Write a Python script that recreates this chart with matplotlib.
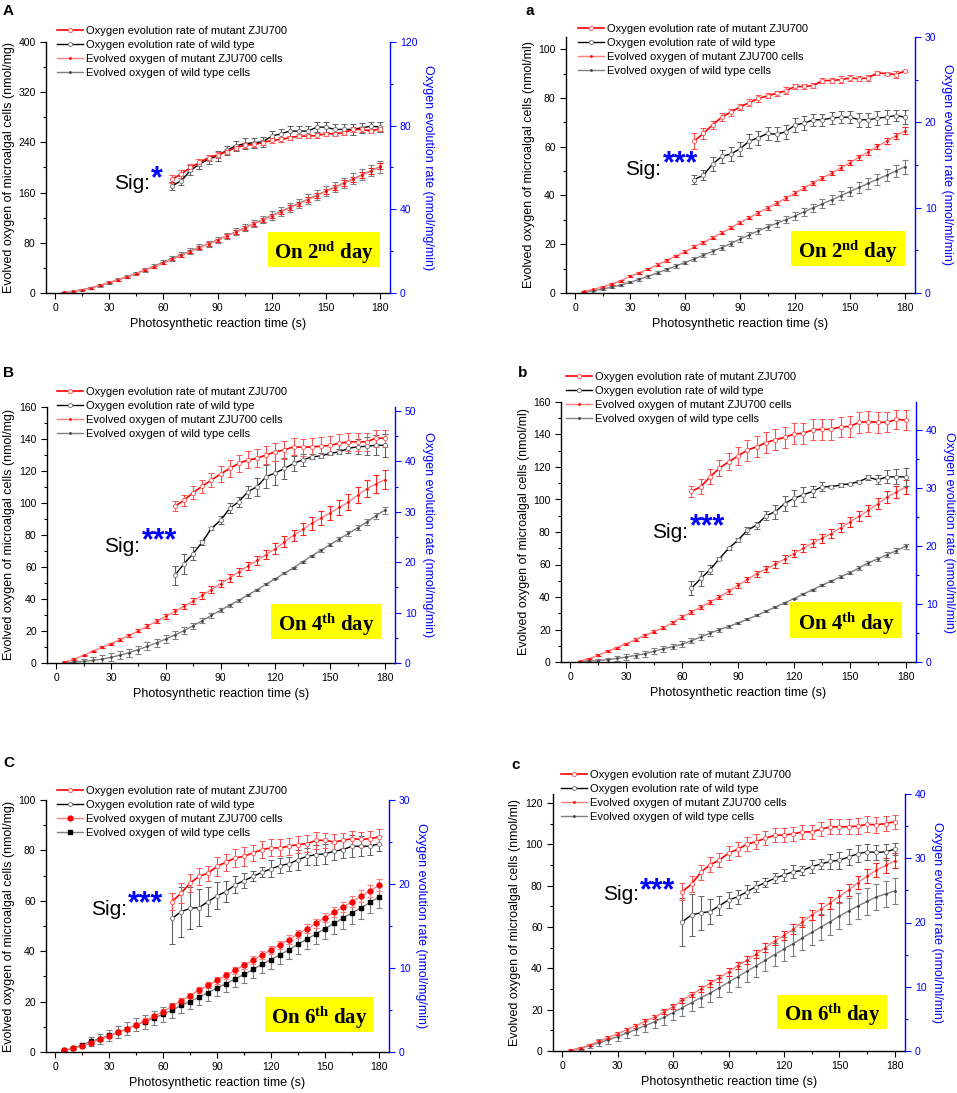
import matplotlib
matplotlib.use('Agg')
import matplotlib.pyplot as plt
from matplotlib.lines import Line2D
from matplotlib.patches import Rectangle
from matplotlib.ticker import MultipleLocator

plt.rcParams['font.family'] = ['Liberation Sans', 'DejaVu Sans']
plt.rcParams['mathtext.fontset'] = 'custom'
plt.rcParams['mathtext.rm'] = 'Liberation Serif:bold'
plt.rcParams['mathtext.bf'] = 'Liberation Serif:bold'
plt.rcParams['mathtext.it'] = 'Liberation Serif:bold'

W, H = 957, 1093

##### time points #####
t_evo = [5, 10, 15, 20, 25, 30, 35, 40, 45, 50, 55, 60, 65, 70, 75, 80, 85, 90,
         95, 100, 105, 110, 115, 120, 125, 130, 135, 140, 145, 150, 155, 160,
         165, 170, 175, 180]
t_rate = [65, 70, 75, 80, 85, 90, 95, 100, 105, 110, 115, 120, 125, 130, 135,
          140, 145, 150, 155, 160, 165, 170, 175, 180]

leg_labels = ['Oxygen evolution rate of mutant ZJU700',
              'Oxygen evolution rate of wild type',
              'Evolved oxygen of mutant ZJU700 cells',
              'Evolved oxygen of wild type cells']

##### panel A (2nd day, per mg) #####
A_evo_mut = [1, 3, 5, 8, 12, 17, 21, 26, 31, 37, 42, 48, 54, 60, 66, 72, 78, 84,
             91, 97, 103, 110, 116, 123, 129, 136, 142, 149, 155, 162, 168, 175,
             181, 188, 194, 202]
A_evo_mut_err = [0.5, 0.6, 0.8, 1, 1, 1.2, 1.3, 1.5, 1.5, 1.7, 1.8, 2, 2, 2.2, 2.3,
                 2.5, 2.5, 2.7, 2.8, 3, 3, 3.2, 3.3, 3.5, 3.5, 3.7, 3.8, 4, 4, 4.2,
                 4.3, 4.5, 4.5, 4.7, 4.8, 5]
A_evo_wt = [1, 2.5, 5, 8.5, 12, 16.5, 21, 26, 31.5, 37, 43, 49, 55, 61, 67, 73,
            78.5, 84.5, 91, 97.5, 104, 110.5, 117, 123.5, 130, 136.5, 143, 149.5,
            156, 162.5, 169, 175.5, 182, 188.5, 195, 201]
A_evo_wt_err = [0.8, 1, 1.2, 1.5, 1.7, 2, 2.2, 2.5, 2.7, 3, 3.2, 3.5, 3.7, 4, 4.2,
                4.5, 4.7, 5, 5.2, 5.5, 5.7, 6, 6.2, 6.5, 6.7, 7, 7.2, 7.5, 7.7, 8,
                8.2, 8.5, 8.7, 9, 9, 9]
A_rate_mut = [54.5, 57, 60, 62.4, 64.7, 66, 67.6, 69.5, 70.6, 71, 71.8, 73, 73.4,
              74.2, 75, 75, 75.3, 76.1, 76.1, 76.6, 78.2, 78.2, 77.4, 78.6]
A_rate_mut_err = [2, 2, 1.8, 1.5, 1.5, 1.5, 1.3, 1.3, 1.3, 1.3, 1.2, 1.2, 1, 1, 1,
                  1, 1, 1, 1, 1, 1, 1, 1, 1.2]
A_rate_wt = [51.3, 53.7, 58.7, 61.6, 64, 65.5, 68.2, 70.3, 71.4, 71.8, 72.3, 75,
             76.1, 77.4, 77.4, 77.4, 79.3, 79.3, 78.2, 78.2, 78.2, 79, 79.7, 79.4]
A_rate_wt_err = [2, 2, 2.5, 2.3, 2.2, 2.5, 2.2, 2.5, 2.5, 2.5, 2.5, 2.5, 2.5, 2.5,
                 2.5, 2.5, 2.5, 2.5, 2.5, 2.5, 2.5, 2.3, 2.2, 2.2]

##### panel a (2nd day, per ml) #####
a_evo_mut = [0.7, 1.5, 2.5, 3.7, 5.1, 6.8, 8.3, 9.9, 11.6, 13.4, 15.2, 17, 18.9,
             20.8, 22.7, 24.7, 26.8, 28.9, 30.9, 32.9, 34.9, 36.9, 38.9, 41, 43.1,
             45.2, 47.2, 49.2, 51.3, 53.5, 55.7, 57.9, 60.1, 62.3, 64.4, 66.6]
a_evo_mut_err = [0.2, 0.3, 0.3, 0.3, 0.4, 0.4, 0.4, 0.5, 0.5, 0.5, 0.5, 0.6, 0.6,
                 0.6, 0.6, 0.7, 0.7, 0.7, 0.7, 0.8, 0.8, 0.8, 0.8, 0.9, 0.9, 0.9,
                 0.9, 1, 1, 1, 1, 1.1, 1.1, 1.2, 1.2, 1.3]
a_evo_wt = [0.4, 1.0, 1.6, 2.4, 3.3, 4.4, 5.6, 6.9, 8.3, 9.7, 11.1, 12.5, 14.0,
            15.5, 17.1, 18.6, 20.3, 22.1, 23.8, 25.5, 27.1, 28.6, 30.1, 31.6, 33.3,
            35.0, 36.6, 38.2, 39.9, 41.6, 43.3, 45.0, 46.6, 48.3, 50.0, 51.8]
a_evo_wt_err = [0.2, 0.3, 0.3, 0.4, 0.4, 0.5, 0.5, 0.6, 0.6, 0.7, 0.7, 0.8, 0.8,
                0.9, 1, 1, 1.1, 1.1, 1.2, 1.3, 1.3, 1.4, 1.5, 1.5, 1.6, 1.7, 1.8,
                1.8, 1.9, 2, 2.1, 2.2, 2.3, 2.4, 2.6, 2.8]
a_rate_mut = [17.8, 18.7, 19.7, 20.6, 21.2, 21.8, 22.3, 22.8, 23.1, 23.4, 23.7,
              24.2, 24.2, 24.3, 24.9, 24.9, 25.0, 25.2, 25.1, 25.2, 25.8, 25.7,
              25.6, 26.0]
a_rate_mut_err = [0.9, 0.6, 0.5, 0.5, 0.4, 0.4, 0.4, 0.4, 0.3, 0.3, 0.4, 0.3, 0.3,
                  0.3, 0.3, 0.3, 0.4, 0.3, 0.3, 0.3, 0.2, 0.2, 0.4, 0.1]
a_rate_wt = [13.3, 13.8, 15.1, 16.0, 16.3, 16.9, 17.8, 18.2, 18.7, 18.6, 18.9,
             19.7, 19.9, 20.3, 20.3, 20.5, 20.6, 20.6, 20.3, 20.3, 20.5, 20.6,
             20.8, 20.6]
a_rate_wt_err = [0.5, 0.6, 0.8, 0.8, 0.8, 0.8, 0.8, 0.8, 0.8, 0.8, 0.8, 0.8, 0.8,
                 0.7, 0.7, 0.7, 0.7, 0.7, 0.8, 0.8, 0.8, 0.8, 0.7, 0.8]

##### panel B (4th day, per mg) #####
B_evo_mut = [0.8, 2.5, 4.8, 7.3, 9.8, 12.1, 14.6, 17.3, 20.1, 23.0, 26.1, 29.2,
             32.3, 35.4, 38.8, 42.2, 45.8, 49.5, 53.2, 56.9, 60.6, 64.2, 67.8,
             71.5, 75.7, 79.8, 83.6, 87.3, 90.6, 93.8, 97.2, 100.6, 104.8, 108.9,
             111.8, 114.6]
B_evo_mut_err = [0.3, 0.4, 0.5, 0.5, 0.6, 0.7, 0.8, 0.9, 1, 1.1, 1.2, 1.4, 1.5,
                 1.6, 1.8, 1.9, 2.1, 2.2, 2.4, 2.5, 2.7, 2.9, 3, 3.2, 3.4, 3.6, 3.8,
                 4, 4.2, 4.4, 4.6, 4.8, 5, 5.3, 5.6, 5.9]
B_evo_wt = [0.2, 0.5, 1.0, 1.6, 2.4, 3.5, 4.9, 6.5, 8.4, 10.4, 12.6, 15.0, 17.5,
            20.2, 23.3, 26.5, 29.7, 33.0, 36.1, 39.2, 42.5, 45.8, 49.3, 52.7, 56.1,
            59.6, 63.3, 67.0, 70.5, 74.0, 77.5, 81.0, 84.5, 88.0, 92.0, 95.6]
B_evo_wt_err = [0.3, 0.5, 1.5, 2, 2.3, 2.5, 2.5, 2.5, 2.5, 2.5, 2.5, 2.3, 2.3, 2.2,
                2, 1.8, 1.5, 1.2, 1, 0.8, 0.6, 0.5, 0.4, 0.4, 0.5, 0.6, 0.7, 0.8,
                0.9, 1, 1.2, 1.4, 1.6, 1.8, 2, 2.2]
B_rate_mut = [31.1, 32.3, 33.8, 35.1, 36.3, 37.5, 38.6, 39.6, 40.3, 40.6, 41.3,
              41.9, 42.3, 42.9, 42.8, 42.9, 43.0, 43.2, 43.6, 43.9, 43.9, 43.9,
              44.6, 44.6]
B_rate_mut_err = [1, 1.1, 1.3, 1.3, 1.4, 1.5, 1.6, 1.6, 1.7, 1.8, 1.8, 1.8, 1.8,
                  1.7, 1.7, 1.8, 1.8, 1.8, 1.8, 1.8, 1.8, 1.8, 1.7, 1.7]
B_rate_wt = [17.4, 19.7, 21.7, 24.0, 26.7, 28.3, 30.7, 32.0, 34.0, 35.0, 37.0,
             37.7, 38.6, 39.6, 40.3, 40.9, 41.1, 41.6, 41.9, 42.6, 42.9, 43.0,
             43.2, 43.2]
B_rate_wt_err = [1.9, 2.0, 1.3, 0.5, 0.3, 0.8, 1.0, 1.0, 1.2, 1.8, 2.2, 2.3, 2.0,
                 1.5, 1.2, 0.5, 0.5, 0.3, 0.5, 1.0, 1.5, 1.8, 2.0, 2.3]

##### panel b (4th day, per ml) #####
b_evo_mut = [0.6, 2.0, 4.2, 6.6, 8.9, 11.3, 13.8, 16.4, 18.7, 21.1, 24.4, 27.7,
             30.7, 33.8, 36.9, 40.0, 43.6, 47.2, 50.8, 54.4, 57.2, 60.1, 63.4,
             66.7, 70.0, 73.2, 76.1, 79.0, 82.6, 86.2, 89.7, 93.3, 97.4, 101.5,
             104.6, 107.7]
b_evo_mut_err = [0.3, 0.4, 0.5, 0.5, 0.6, 0.7, 0.7, 0.8, 0.9, 1, 1, 1.1, 1.2, 1.3,
                 1.4, 1.5, 1.6, 1.7, 1.8, 1.9, 2, 2.1, 2.2, 2.3, 2.4, 2.5, 2.6, 2.7,
                 2.8, 3, 3.1, 3.3, 3.5, 3.7, 3.9, 4.1]
b_evo_wt = [0.2, 0.6, 0.9, 1.4, 2.2, 3.1, 4.0, 5.1, 6.6, 8.2, 9.5, 10.9, 13.1,
            15.4, 17.7, 19.9, 21.9, 24.0, 26.3, 28.7, 31.2, 33.8, 36.4, 39.0, 41.8,
            44.5, 47.2, 49.8, 52.4, 55.0, 58.0, 61.0, 63.5, 66.0, 68.6, 71.2]
b_evo_wt_err = [0.3, 0.4, 1, 1.3, 1.5, 1.8, 1.8, 1.8, 1.8, 1.8, 1.8, 1.8, 1.7, 1.6,
                1.5, 1.3, 1.1, 0.9, 0.7, 0.6, 0.5, 0.5, 0.5, 0.5, 0.6, 0.6, 0.7,
                0.8, 0.9, 1, 1.1, 1.2, 1.3, 1.4, 1.5, 1.6]
b_rate_mut = [29.4, 30.2, 31.9, 33.4, 34.5, 35.5, 36.5, 37.1, 37.8, 38.3, 38.7,
              39.3, 39.4, 40.0, 40.1, 40.1, 40.5, 40.6, 41.3, 41.4, 41.3, 41.3,
              41.8, 41.7]
b_rate_mut_err = [1.0, 1.3, 1.3, 1.4, 1.5, 1.6, 1.8, 1.8, 1.8, 1.8, 1.8, 1.8, 1.8,
                  1.8, 1.8, 1.8, 1.8, 1.8, 1.8, 1.8, 1.8, 1.7, 1.7, 1.7]
b_rate_wt = [12.7, 14.4, 15.9, 17.8, 19.6, 21.0, 22.7, 23.6, 25.2, 25.9, 27.3,
             28.2, 28.8, 29.4, 30.2, 30.2, 30.5, 30.7, 31.1, 31.8, 31.4, 31.9,
             31.9, 31.9]
b_rate_wt_err = [1.2, 1.3, 0.8, 0.3, 0.3, 0.3, 0.6, 0.6, 0.8, 1.2, 1.3, 1.4, 1.3,
                 1.0, 0.8, 0.3, 0.3, 0.2, 0.2, 0.5, 0.8, 1.1, 1.3, 1.6]

##### panel C (6th day, per mg) #####
C_evo_mut = [0.6, 1.4, 2.4, 3.6, 5.0, 6.3, 7.8, 9.2, 10.8, 12.4, 14.2, 16.0, 18.2,
             20.3, 22.4, 24.6, 26.4, 28.4, 30.4, 32.4, 34.4, 36.4, 38.5, 40.5,
             42.6, 44.6, 46.8, 48.9, 51.1, 53.3, 55.5, 57.5, 59.7, 61.8, 64.0, 66.2]
C_evo_mut_err = [0.3, 0.4, 0.5, 0.6, 0.6, 0.7, 0.7, 0.8, 0.8, 0.9, 0.9, 1, 1, 1.1,
                 1.1, 1.2, 1.2, 1.3, 1.3, 1.4, 1.4, 1.5, 1.5, 1.6, 1.6, 1.7, 1.7,
                 1.8, 1.8, 1.9, 2, 2.1, 2.2, 2.3, 2.4, 2.5]
C_evo_wt = [0.6, 1.5, 2.9, 4.2, 5.3, 6.6, 7.8, 9.2, 10.8, 12.0, 13.5, 15.0, 16.6,
            18.5, 20.0, 21.8, 23.6, 25.4, 27.1, 29.0, 30.8, 32.8, 34.8, 36.7, 38.6,
            40.6, 42.8, 44.8, 46.9, 49.0, 51.0, 53.2, 55.2, 57.2, 59.4, 61.5]
C_evo_wt_err = [0.3, 0.5, 0.8, 1.8, 2.0, 2.2, 2.4, 2.6, 2.6, 2.7, 2.8, 2.9, 3.0,
                3.0, 3.1, 3.2, 3.2, 3.3, 3.4, 3.4, 3.5, 3.5, 3.6, 3.7, 3.7, 3.8,
                3.9, 3.9, 4.0, 4.1, 4.1, 4.2, 4.3, 4.3, 4.4, 4.5]
C_rate_mut = [17.9, 18.9, 20.1, 20.9, 21.3, 22.1, 22.6, 23.1, 23.3, 23.7, 24.1,
              24.3, 24.3, 24.5, 24.7, 24.8, 25.2, 25.2, 25.0, 25.2, 25.4, 25.3,
              25.4, 25.6]
C_rate_mut_err = [1.05, 1.2, 1.1, 1.0, 0.9, 1.1, 1.0, 1.1, 1.1, 1.0, 1.0, 1.0, 1.0,
                  1.0, 1.0, 1.0, 1.0, 0.9, 0.9, 0.9, 0.9, 0.9, 0.9, 0.9]
C_rate_wt = [15.9, 16.7, 17.1, 17.2, 17.9, 18.6, 19.1, 19.9, 20.4, 20.9, 21.4,
             21.8, 22.2, 22.4, 22.9, 23.3, 23.5, 23.6, 23.9, 24.1, 24.5, 24.5,
             24.5, 24.8]
C_rate_wt_err = [3.0, 3.0, 2.5, 2.2, 1.7, 1.6, 1.3, 1.0, 0.9, 0.6, 0.6, 1.0, 0.9,
                 0.8, 1.2, 1.0, 1.2, 1.2, 1.0, 1.0, 1.3, 1.2, 1.0, 0.9]

##### panel c (6th day, per ml) #####
c_evo_mut = [0.5, 1.5, 3.0, 4.8, 6.5, 8.4, 10.3, 12.3, 14.3, 16.5, 18.9, 21.5,
             24.5, 27.3, 30.0, 32.8, 35.3, 38.3, 41.3, 44.0, 47.0, 50.0, 53.3,
             56.0, 58.9, 62.5, 65.8, 68.7, 71.7, 74.8, 78.0, 81.4, 84.7, 87.5,
             89.8, 92.0]
c_evo_mut_err = [0.3, 0.4, 0.5, 0.6, 0.7, 0.8, 0.9, 1, 1, 1.1, 1.2, 1.3, 1.3, 1.4,
                 1.5, 1.6, 1.7, 1.8, 1.8, 1.9, 2, 2.1, 2.2, 2.3, 2.4, 2.5, 2.6, 2.7,
                 2.8, 2.9, 3, 3.1, 3.2, 3.4, 3.5, 3.6]
c_evo_wt = [0.3, 1.3, 2.6, 4.0, 5.5, 7.0, 8.7, 10.5, 12.3, 14.2, 16.3, 18.6, 21.0,
            23.4, 25.8, 28.0, 30.6, 33.3, 36.0, 38.6, 41.3, 44.0, 46.7, 49.4, 52.0,
            54.8, 57.4, 60.0, 62.6, 65.3, 67.8, 70.2, 72.4, 74.6, 76.0, 77.5]
c_evo_wt_err = [0.3, 0.6, 1.0, 1.8, 2.0, 2.4, 2.6, 2.8, 3.0, 3.2, 3.5, 3.7, 3.9,
                4.1, 4.3, 4.5, 4.7, 4.8, 5.0, 5.2, 5.3, 5.5, 5.6, 5.8, 5.9, 6.0,
                6.1, 6.2, 6.3, 6.4, 6.5, 6.5, 6.5, 6.4, 6.3, 6.2]
c_rate_mut = [24.8, 26.0, 27.8, 29.0, 29.7, 30.8, 31.4, 32.2, 32.6, 33.1, 33.6,
              33.6, 33.8, 34.1, 34.1, 34.5, 34.9, 34.9, 34.9, 35.0, 35.3, 35.2,
              35.4, 35.7]
c_rate_mut_err = [1.3, 1.2, 1.2, 1.2, 1.1, 1.1, 1.1, 1.1, 1.1, 1.1, 1.1, 1.1, 1.1,
                  1.1, 1.1, 1.1, 1.2, 1.2, 1.2, 1.2, 1.2, 1.2, 1.1, 1.1]
c_rate_wt = [20.1, 21.2, 21.5, 21.7, 22.6, 23.5, 24.0, 24.8, 25.6, 26.2, 26.9,
             27.4, 27.9, 28.1, 28.7, 29.1, 29.5, 29.7, 30.2, 30.7, 31.0, 30.9,
             31.0, 31.4]
c_rate_wt_err = [3.7, 3.3, 2.6, 2.0, 1.5, 1.3, 1.1, 1.0, 0.8, 0.7, 0.8, 0.9, 1.0,
                 0.7, 1.0, 0.8, 1.2, 1.3, 1.2, 1.3, 1.2, 1.2, 1.2, 0.9]

# layout in pixels: axes box (l, t, r, b), legend (x, y of first row),
# Sig (right edge, baseline), stars (left edge, centre), day box (l, t, r, b)
panels = [
    dict(letter='A', lpos=(3, 4), box=(46, 42, 390, 293), ylim=(0, 400), ymaj=80, ymin=40,
         ylim2=(0, 120), ymaj2=40, ymin2=20, unit='mg', lab_l=31, lab_r=32,
         leg=(57, 33), sig=(150, 189), stars=('*', 151, 170),
         day=r'On 2$^{\mathrm{nd}}$ day', dbox=(268, 232, 380, 267), filled=False,
         d=(A_evo_mut, A_evo_mut_err, A_evo_wt, A_evo_wt_err,
            A_rate_mut, A_rate_mut_err, A_rate_wt, A_rate_wt_err)),
    dict(letter='a', lpos=(525, 4), box=(566, 37, 915, 293), ylim=(0, 105), ymaj=20, ymin=10,
         ylim2=(0, 30), ymaj2=10, ymin2=5, unit='ml', lab_l=31, lab_r=26,
         leg=(578, 31), sig=(661, 175), stars=('***', 663, 155),
         day=r'On 2$^{\mathrm{nd}}$ day', dbox=(791, 231, 905, 266), filled=False,
         d=(a_evo_mut, a_evo_mut_err, a_evo_wt, a_evo_wt_err,
            a_rate_mut, a_rate_mut_err, a_rate_wt, a_rate_wt_err)),
    dict(letter='B', lpos=(3, 366), box=(47, 407, 395, 663), ylim=(0, 160), ymaj=20, ymin=10,
         ylim2=(0, 50.8), ymaj2=10, ymin2=5, unit='mg', lab_l=32, lab_r=27,
         leg=(57, 394), sig=(140, 552), stars=('***', 142, 532),
         day=r'On 4$^{\mathrm{th}}$ day', dbox=(271, 604, 381, 639), filled=False,
         d=(B_evo_mut, B_evo_mut_err, B_evo_wt, B_evo_wt_err,
            B_rate_mut, B_rate_mut_err, B_rate_wt, B_rate_wt_err)),
    dict(letter='b', lpos=(518, 366), box=(561, 402, 916, 662), ylim=(0, 160), ymaj=20, ymin=10,
         ylim2=(0, 44.8), ymaj2=10, ymin2=5, unit='ml', lab_l=31, lab_r=27,
         leg=(566, 379), sig=(688, 538), stars=('***', 690, 518),
         day=r'On 4$^{\mathrm{th}}$ day', dbox=(790, 602, 902, 638), filled=False,
         d=(b_evo_mut, b_evo_mut_err, b_evo_wt, b_evo_wt_err,
            b_rate_mut, b_rate_mut_err, b_rate_wt, b_rate_wt_err)),
    dict(letter='C', lpos=(3, 756), box=(46, 800, 389, 1052), ylim=(0, 100), ymaj=20, ymin=10,
         ylim2=(0, 30), ymaj2=10, ymin2=5, unit='mg', lab_l=31, lab_r=26,
         leg=(57, 793), sig=(127, 915), stars=('***', 128, 895),
         day=r'On 6$^{\mathrm{th}}$ day', dbox=(265, 997, 373, 1032), filled=True,
         d=(C_evo_mut, C_evo_mut_err, C_evo_wt, C_evo_wt_err,
            C_rate_mut, C_rate_mut_err, C_rate_wt, C_rate_wt_err)),
    dict(letter='c', lpos=(511, 758), box=(553, 794, 905, 1051), ylim=(0, 124.4), ymaj=20, ymin=10,
         ylim2=(0, 40), ymaj2=10, ymin2=5, unit='ml', lab_l=32, lab_r=26,
         leg=(561, 777), sig=(639, 900), stars=('***', 640, 882),
         day=r'On 6$^{\mathrm{th}}$ day', dbox=(777, 995, 887, 1029), filled=False,
         d=(c_evo_mut, c_evo_mut_err, c_evo_wt, c_evo_wt_err,
            c_rate_mut, c_rate_mut_err, c_rate_wt, c_rate_wt_err)),
]

RED = '#ff0000'
LRED = '#ff7f7f'
GRAY = '#808080'

fig = plt.figure(figsize=(W / 100, H / 100), dpi=100)


def fx(x):
    return x / W


def fy(y):
    return 1 - y / H


for p in panels:
    l, t, r, b = p['box']
    evo_mut, evo_mut_err, evo_wt, evo_wt_err, rate_mut, rate_mut_err, rate_wt, rate_wt_err = p['d']
    ax = fig.add_axes([fx(l), fy(b), (r - l) / W, (b - t) / H])
    ax2 = ax.twinx()

    #### evolved oxygen, left axis ####
    eb = dict(elinewidth=0.8, capsize=2, capthick=0.8, lw=1)
    if p['filled']:
        ax.errorbar(t_evo, evo_wt, yerr=evo_wt_err, color=GRAY, ecolor=GRAY,
                    marker='s', ms=3, mfc='black', mec='black', **eb)
        ax.errorbar(t_evo, evo_mut, yerr=evo_mut_err, color=LRED, ecolor=LRED,
                    marker='o', ms=3.5, mfc=RED, mec=RED, **eb)
    else:
        ax.errorbar(t_evo, evo_wt, yerr=evo_wt_err, color=GRAY, ecolor=GRAY,
                    marker='.', ms=2, mfc='#404040', mec='#404040', **eb)
        ax.errorbar(t_evo, evo_mut, yerr=evo_mut_err, color=LRED, ecolor='#ff2020',
                    marker='.', ms=2, mfc=RED, mec=RED, **eb)

    #### rates, right axis ####
    ax2.errorbar(t_rate, rate_wt, yerr=rate_wt_err, color='black', ecolor='#606060',
                 marker='o', ms=3, mfc='white', mec=GRAY, mew=0.7, **eb)
    ax2.errorbar(t_rate, rate_mut, yerr=rate_mut_err, color=RED, ecolor='#ff5050',
                 marker='o', ms=3, mfc='white', mec='#ff6060', mew=0.7,
                 elinewidth=0.8, capsize=2, capthick=0.8, lw=1.2)

    ax.set_xlim(-5, 185.5)
    ax.set_ylim(*p['ylim'])
    ax2.set_ylim(*p['ylim2'])
    ax.xaxis.set_major_locator(MultipleLocator(30))
    ax.xaxis.set_minor_locator(MultipleLocator(15))
    ax.yaxis.set_major_locator(MultipleLocator(p['ymaj']))
    ax.yaxis.set_minor_locator(MultipleLocator(p['ymin']))
    ax2.yaxis.set_major_locator(MultipleLocator(p['ymaj2']))
    ax2.yaxis.set_minor_locator(MultipleLocator(p['ymin2']))

    for a_ in (ax, ax2):
        a_.spines['top'].set_visible(False)
    ax.spines['right'].set_visible(False)
    ax2.spines['left'].set_visible(False)
    ax2.spines['bottom'].set_visible(False)
    ax2.spines['right'].set_color('blue')
    ax.spines['left'].set_linewidth(1)
    ax.spines['bottom'].set_linewidth(1)
    ax2.spines['right'].set_linewidth(1)

    ax.tick_params(which='both', direction='out', labelsize=7.5, width=0.8, top=False, right=False)
    ax.tick_params(which='major', length=4)
    ax.tick_params(which='minor', length=2)
    ax2.tick_params(axis='y', which='both', direction='out', labelsize=7.5, width=0.8,
                    colors='blue', pad=3)
    ax2.tick_params(axis='y', which='major', length=4)
    ax2.tick_params(axis='y', which='minor', length=2)

    ax.set_xlabel('Photosynthetic reaction time (s)', fontsize=9)
    ax.xaxis.set_label_coords(0.5, -25 / (b - t))
    ax.set_ylabel('Evolved oxygen of microalgal cells (nmol/%s)' % p['unit'], fontsize=9)
    ax.yaxis.set_label_coords(-p['lab_l'] / (r - l), 0.5)
    ax2.set_ylabel('Oxygen evolution rate (nmol/%s/min)' % p['unit'], fontsize=9,
                   color='blue', rotation=270, va='bottom')
    ax2.yaxis.set_label_coords(1 + p['lab_r'] / (r - l), 0.5)

    #### legend ####
    if p['filled']:
        h3 = Line2D([], [], color=LRED, marker='o', ms=3.5, mfc=RED, mec=RED, lw=1)
        h4 = Line2D([], [], color=GRAY, marker='s', ms=3, mfc='black', mec='black', lw=1)
    else:
        h3 = Line2D([], [], color=LRED, marker='.', ms=2, mfc=RED, mec=RED, lw=1)
        h4 = Line2D([], [], color=GRAY, marker='.', ms=2, mfc='#404040', mec='#404040', lw=1)
    handles = [Line2D([], [], color=RED, marker='o', ms=3, mfc='white', mec='#ff6060', mew=0.7, lw=1.2),
               Line2D([], [], color='black', marker='o', ms=3, mfc='white', mec=GRAY, mew=0.7, lw=1),
               h3, h4]
    lx, ly = p['leg']
    ax2.legend(handles, leg_labels, loc='upper left', bbox_to_anchor=(fx(lx), fy(ly - 7)),
               bbox_transform=fig.transFigure, frameon=False, fontsize=8, borderpad=0,
               borderaxespad=0, handlelength=2.3, handletextpad=0.3, labelspacing=0.36)

    #### annotations ####
    fig.text(fx(p['lpos'][0]), fy(p['lpos'][1]), p['letter'], fontsize=11,
             fontweight='bold', ha='left', va='top')
    sx, sy = p['sig']
    fig.text(fx(sx), fy(sy), 'Sig:', fontsize=15, ha='right', va='baseline')
    stars, stx, sty = p['stars']
    fig.text(fx(stx), fy(sty + 17), stars, fontsize=22, fontweight='bold',
             color='blue', ha='left', va='baseline')

    bl, bt, br, bb = p['dbox']
    fig.add_artist(Rectangle((fx(bl), fy(bb)), (br - bl) / W, (bb - bt) / H,
                             transform=fig.transFigure, facecolor='#ffff00',
                             edgecolor='none'))
    fig.text(fx((bl + br) / 2), fy(bb - 8), p['day'], fontsize=15,
             fontfamily='Liberation Serif', fontweight='bold', ha='center', va='baseline')

plt.savefig('out.png', dpi=100)
